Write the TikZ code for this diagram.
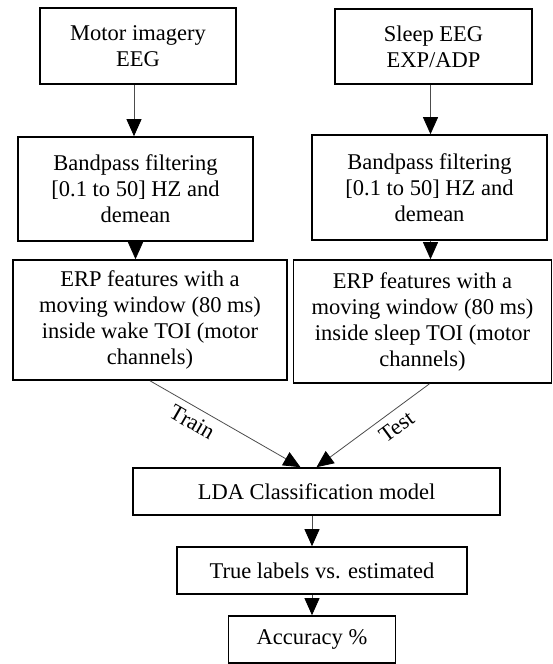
\documentclass[tikz,border=0pt]{standalone}
\usepackage{fontspec}
\setmainfont{Liberation Serif}
\usetikzlibrary{arrows.meta}

\tikzset{
    stepbox/.style={draw=black, line width=1.6pt, align=center, inner sep=2pt,
        font=\fontsize{22.5}{26}\selectfont},
    flow/.style={draw=gray!60!black, line width=0.8pt,
        -{Triangle[length=17pt,width=15pt,color=black]}},
    tag/.style={font=\fontsize{22.5}{26}\selectfont, sloped, below, inner sep=7pt}
}

\begin{document}
\begin{tikzpicture}[x=1pt, y=-1pt]

    % Fix the page to the size of the picture
    \useasboundingbox (0,0) rectangle (552,664);

    % The two EEG sources
    \node[stepbox, minimum width=196pt, minimum height=76pt] (mieeg) at (138,46) {Motor imagery\\EEG};
    \node[stepbox, minimum width=197pt, minimum height=75pt] (sleeg) at (433.5,46.5) {Sleep EEG\\EXP/ADP};

    % Filtering for each source
    \node[stepbox, minimum width=235pt, minimum height=104pt] (mifilt) at (135.5,189) {Bandpass filtering\\{[0.1 to 50]} HZ and\\demean};
    \node[stepbox, minimum width=235pt, minimum height=105pt] (slfilt) at (429.5,187.5) {Bandpass filtering\\{[0.1 to 50]} HZ and\\demean};

    % ERP features
    \node[stepbox, minimum width=274pt, minimum height=120pt] (mierp) at (150,320) {ERP features with a\\moving window (80 ms)\\inside wake TOI (motor\\channels)};
    \node[stepbox, minimum width=258pt, minimum height=123pt] (slerp) at (422.5,321.5) {ERP features with a\\moving window (80 ms)\\inside sleep TOI (motor\\channels)};

    % Classifier and results
    \node[stepbox, minimum width=367pt, minimum height=47pt] (lda) at (316.5,491.5) {LDA Classification model};
    \node[stepbox, minimum width=290pt, minimum height=47pt] (truelab) at (322,570.5) {True labels vs. estimated};
    \node[stepbox, minimum width=167pt, minimum height=47pt] (acc) at (312,639.5) {Accuracy \%};

    % Arrows down each column
    \draw[flow] ([xshift=-4pt]mieeg.south) -- ([xshift=-4pt]mieeg.south |- mifilt.north);
    \draw[flow] ([xshift=-3pt]sleeg.south) -- ([xshift=-3pt]sleeg.south |- slfilt.north);
    \draw[flow] (mifilt.south) -- (mifilt.south |- mierp.north);
    \draw[flow] ([xshift=1pt]slfilt.south) -- ([xshift=1pt]slfilt.south |- slerp.north);

    % Train and test into the classifier
    \draw[flow] (mierp.south) -- node[tag, pos=0.33] {Train} ([xshift=-16pt]lda.north);
    \draw[flow] ([xshift=7pt]slerp.south) -- node[tag, pos=0.37] {Test} (lda.north);

    % Down to the accuracy
    \draw[flow] (lda.south -| acc.north) -- (truelab.north -| acc.north);
    \draw[flow] (truelab.south -| acc.north) -- (acc.north);
\end{tikzpicture}
\end{document}
